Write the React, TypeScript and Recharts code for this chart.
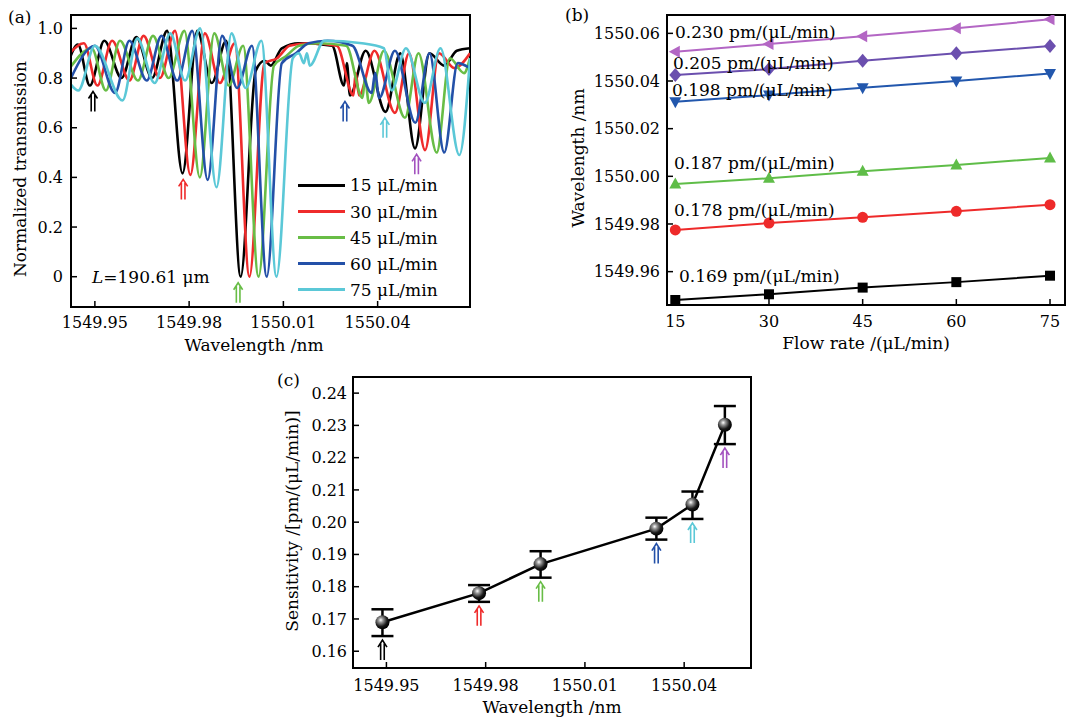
import React from "react";
import { ComposedChart, Line, Scatter, XAxis, YAxis, ReferenceArea, ErrorBar } from "recharts";

const FONT = "'DejaVu Serif', 'Liberation Serif', serif";

// (a) transmission spectra, [wavelength nm, normalized transmission]
const spec15 = [
  [1549.942, 0.88], [1549.9446, 0.935], [1549.9484, 0.77], [1549.953, 0.95], [1549.9585, 0.8],
  [1549.9632, 0.965], [1549.9682, 0.8], [1549.973, 0.99], [1549.9779, 0.416], [1549.9826, 0.99],
  [1549.9872, 0.78], [1549.9918, 0.95], [1549.9964, 0.0], [1550.0012, 0.83], [1550.004, 0.87],
  [1550.006, 0.85], [1550.0095, 0.92], [1550.015, 0.94], [1550.0255, 0.93], [1550.0293, 0.77],
  [1550.0302, 0.86], [1550.0312, 0.73], [1550.0362, 0.91], [1550.0425, 0.664], [1550.0472, 0.9],
  [1550.0519, 0.517], [1550.0565, 0.9], [1550.0612, 0.85], [1550.0652, 0.91], [1550.0694, 0.92],
];
const spec30 = [
  [1549.942, 0.9], [1549.9465, 0.94], [1549.9508, 0.77], [1549.9555, 0.95], [1549.961, 0.79],
  [1549.9655, 0.97], [1549.9707, 0.8], [1549.9755, 0.99], [1549.9804, 0.41], [1549.985, 0.98],
  [1549.9898, 0.78], [1549.9945, 0.94], [1549.9992, 0.0], [1550.004, 0.86], [1550.008, 0.88],
  [1550.012, 0.93], [1550.018, 0.94], [1550.027, 0.93], [1550.0323, 0.73], [1550.033, 0.82],
  [1550.0341, 0.73], [1550.039, 0.91], [1550.0455, 0.66], [1550.05, 0.9], [1550.0551, 0.51],
  [1550.0595, 0.9], [1550.0645, 0.84], [1550.0694, 0.9],
];
const spec45 = [
  [1549.942, 0.84], [1549.949, 0.92], [1549.9535, 0.75], [1549.958, 0.95], [1549.9637, 0.79],
  [1549.9685, 0.97], [1549.9735, 0.8], [1549.9785, 0.99], [1549.9834, 0.4], [1549.988, 0.98],
  [1549.9926, 0.77], [1549.9972, 0.93], [1550.0021, 0.0], [1550.007, 0.85], [1550.011, 0.89],
  [1550.015, 0.93], [1550.021, 0.94], [1550.03, 0.93], [1550.0352, 0.72], [1550.036, 0.8],
  [1550.0372, 0.7], [1550.042, 0.91], [1550.0487, 0.64], [1550.053, 0.9], [1550.0588, 0.5],
  [1550.063, 0.88], [1550.0675, 0.82], [1550.0694, 0.88],
];
const spec60 = [
  [1549.942, 0.79], [1549.95, 0.93], [1549.9564, 0.74], [1549.961, 0.95], [1549.9665, 0.79],
  [1549.9712, 0.97], [1549.9762, 0.79], [1549.981, 0.99], [1549.9859, 0.39], [1549.9905, 0.97],
  [1549.9953, 0.76], [1550.0, 0.93], [1550.0047, 0.0], [1550.0095, 0.86], [1550.014, 0.9],
  [1550.018, 0.94], [1550.024, 0.95], [1550.032, 0.93], [1550.0381, 0.74], [1550.0392, 0.82],
  [1550.0405, 0.72], [1550.0455, 0.91], [1550.052, 0.62], [1550.0565, 0.9], [1550.0612, 0.5],
  [1550.0655, 0.86], [1550.0694, 0.84],
];
const spec75 = [
  [1549.942, 0.78], [1549.9447, 0.75], [1549.95, 0.93], [1549.9588, 0.71], [1549.9635, 0.96],
  [1549.969, 0.78], [1549.974, 0.98], [1549.9787, 0.79], [1549.9835, 1.0], [1549.9887, 0.36],
  [1549.9935, 0.98], [1549.998, 0.76], [1550.003, 0.95], [1550.0078, 0.0], [1550.013, 0.88],
  [1550.015, 0.9], [1550.0165, 0.86], [1550.0175, 0.9], [1550.0184, 0.85], [1550.023, 0.95],
  [1550.035, 0.94], [1550.042, 0.92], [1550.0445, 0.75], [1550.049, 0.92], [1550.055, 0.7],
  [1550.06, 0.92], [1550.066, 0.49], [1550.0694, 0.88],
];
const spectra = [spec15, spec30, spec45, spec60, spec75];
const flowNames = ["15 μL/min", "30 μL/min", "45 μL/min", "60 μL/min", "75 μL/min"];
const specColors = ["#000000", "#ef2b2b", "#68bd46", "#2350a8", "#5bc8d7"];

// tracked dips of the 15 μL/min spectrum (arrows in a)
const dipWl = [1549.9494, 1549.9781, 1549.9956, 1550.0296, 1550.0423, 1550.0524];
const dipT = [0.77, 0.416, 0.0, 0.73, 0.664, 0.517];
const arrowColors = ["#000000", "#ef2b2b", "#68bd46", "#2350a8", "#5bc8d7", "#a352bf"];

// (b) dip wavelength vs flow rate
const flowRates = [15, 30, 45, 60, 75];
const dip169 = [1549.9481, 1549.9505, 1549.9533, 1549.9556, 1549.9583];
const dip178 = [1549.9775, 1549.9804, 1549.9828, 1549.9853, 1549.9881];
const dip187 = [1549.9968, 1549.9992, 1550.0021, 1550.0048, 1550.0077];
const dip198 = [1550.0313, 1550.0341, 1550.0372, 1550.04, 1550.0432];
const dip205 = [1550.0425, 1550.045, 1550.0485, 1550.0516, 1550.0547];
const dip230 = [1550.0523, 1550.0555, 1550.0588, 1550.0621, 1550.0659];
const dipSeries = [dip169, dip178, dip187, dip198, dip205, dip230];
const fitLabels = [
  "0.169 pm/(μL/min)", "0.178 pm/(μL/min)", "0.187 pm/(μL/min)",
  "0.198 pm/(μL/min)", "0.205 pm/(μL/min)", "0.230 pm/(μL/min)",
];
const dipColors = ["#000000", "#ee2a2a", "#5fbd48", "#2257ad", "#6b4fae", "#b366c4"];
const dipShapes = ["square", "circle", "up", "down", "diamond", "left"];
const fitLabelPos = [
  [679, 276], [674, 210], [674, 163], [672, 90], [673, 63], [675, 32],
];

// (c) sensitivity vs dip wavelength
const dipCenters = [1549.9488, 1549.978, 1549.9966, 1550.0316, 1550.0425, 1550.0523];
const sensitivity = [0.169, 0.178, 0.187, 0.198, 0.2055, 0.2302];
const errDown = [0.0043, 0.0027, 0.0042, 0.0034, 0.0045, 0.006];
const errUp = [0.004, 0.0025, 0.004, 0.0034, 0.004, 0.0058];

const axisLine = { stroke: "#000", strokeWidth: 2 };
const tickLine = { stroke: "#000", strokeWidth: 1.5 };
const tickStyle = { fill: "#000", fontSize: 16, fontFamily: FONT };

// double-shafted up arrow, centred on (x, y)
function Arrow({ x, y, color }: { x: number; y: number; color: string }) {
  return (
    <path
      d={`M${x - 4.5},${y - 3} L${x},${y - 10} L${x + 4.5},${y - 3} M${x - 1.8},${y - 6.5} L${x - 1.8},${y + 10} M${x + 1.8},${y - 6.5} L${x + 1.8},${y + 10}`}
      fill="none"
      stroke={color}
      strokeWidth={1.6}
    />
  );
}

function Marker({ cx, cy, shape, color }: any) {
  if (cx == null || cy == null) return null;
  if (shape === "square") return <rect x={cx - 5} y={cy - 5} width={10} height={10} fill={color} />;
  if (shape === "circle") return <circle cx={cx} cy={cy} r={5.5} fill={color} />;
  let pts: number[][] = [];
  if (shape === "up") pts = [[0, -6.5], [6, 4.5], [-6, 4.5]];
  if (shape === "down") pts = [[0, 6.5], [6, -4.5], [-6, -4.5]];
  if (shape === "diamond") pts = [[0, -7], [6, 0], [0, 7], [-6, 0]];
  if (shape === "left") pts = [[-6.5, 0], [4.5, -6], [4.5, 6]];
  return <polygon points={pts.map((p) => `${cx + p[0]},${cy + p[1]}`).join(" ")} fill={color} />;
}

function Sphere({ cx, cy }: any) {
  if (cx == null || cy == null) return null;
  return (
    <g>
      <defs>
        <radialGradient id="sphereFill" cx="0.38" cy="0.35" r="0.65">
          <stop offset="0" stopColor="#ffffff" />
          <stop offset="0.25" stopColor="#9a9a9a" />
          <stop offset="0.7" stopColor="#1a1a1a" />
          <stop offset="1" stopColor="#000000" />
        </radialGradient>
      </defs>
      <circle cx={cx} cy={cy} r={7} fill="url(#sphereFill)" />
    </g>
  );
}

function Txt({ x, y, children, size = 17, center = false, rotate = false }: any) {
  let transform = "translateY(-50%)";
  if (center) transform = "translate(-50%,-50%)";
  if (rotate) transform = "translate(-50%,-50%) rotate(-90deg)";
  return (
    <div
      style={{
        position: "absolute",
        left: x,
        top: y,
        transform,
        fontFamily: FONT,
        fontSize: size,
        lineHeight: 1.2,
        whiteSpace: "nowrap",
        color: "#000",
      }}
    >
      {children}
    </div>
  );
}

function PanelA() {
  const xDom = [1549.9424, 1550.0694];
  const yDom = [-0.122, 1.054];
  const arrows = dipWl.map((x, i) => ({ x, y: dipT[i], k: i }));
  return (
    <div style={{ position: "absolute", left: 0, top: 0 }}>
      <ComposedChart width={475} height={340} margin={{ top: 15, right: 5, bottom: 10, left: 0 }}>
        <XAxis
          type="number"
          dataKey="x"
          domain={xDom}
          allowDataOverflow
          ticks={[1549.95, 1549.98, 1550.01, 1550.04]}
          tickFormatter={(v) => v.toFixed(2)}
          height={23}
          axisLine={axisLine}
          tickLine={tickLine}
          tickSize={-6}
          tickMargin={16}
          tick={tickStyle}
        />
        <YAxis
          type="number"
          dataKey="y"
          domain={yDom}
          allowDataOverflow
          ticks={[0, 0.2, 0.4, 0.6, 0.8, 1.0]}
          tickFormatter={(v) => (v === 0 ? "0" : v.toFixed(1))}
          width={71}
          axisLine={axisLine}
          tickLine={tickLine}
          tickSize={-6}
          tickMargin={14}
          tick={tickStyle}
        />
        {spectra.map((s, i) => (
          <Line
            key={flowNames[i]}
            data={s.map((p) => ({ x: p[0], y: p[1] }))}
            dataKey="y"
            type="monotone"
            stroke={specColors[i]}
            strokeWidth={2.6}
            dot={false}
            isAnimationActive={false}
          />
        ))}
        <Scatter
          data={arrows}
          dataKey="y"
          isAnimationActive={false}
          shape={(p: any) => <Arrow x={p.cx} y={p.cy + 16} color={arrowColors[p.payload.k]} />}
        />
        <ReferenceArea x1={xDom[0]} x2={xDom[1]} y1={yDom[0]} y2={yDom[1]} fill="none" stroke="#000" strokeWidth={2} ifOverflow="visible" />
      </ComposedChart>
    </div>
  );
}

function PanelB() {
  const xDom = [13.67, 77.4];
  const yDom = [1549.946, 1550.0677];
  return (
    <div style={{ position: "absolute", left: 560, top: 0 }}>
      <ComposedChart width={506} height={340} margin={{ top: 15, right: 1, bottom: 10, left: 0 }}>
        <XAxis
          type="number"
          dataKey="x"
          domain={xDom}
          allowDataOverflow
          ticks={flowRates}
          height={25}
          axisLine={axisLine}
          tickLine={tickLine}
          tickSize={-6}
          tickMargin={17}
          tick={tickStyle}
        />
        <YAxis
          type="number"
          dataKey="y"
          domain={yDom}
          allowDataOverflow
          ticks={[1549.96, 1549.98, 1550.0, 1550.02, 1550.04, 1550.06]}
          tickFormatter={(v) => v.toFixed(2)}
          width={107}
          axisLine={axisLine}
          tickLine={tickLine}
          tickSize={-6}
          tickMargin={13}
          tick={tickStyle}
        />
        {dipSeries.map((s, i) => (
          <Line
            key={fitLabels[i]}
            data={s.map((y, j) => ({ x: flowRates[j], y }))}
            dataKey="y"
            type="linear"
            stroke={dipColors[i]}
            strokeWidth={2}
            isAnimationActive={false}
            dot={(p: any) => <Marker key={p.index} cx={p.cx} cy={p.cy} shape={dipShapes[i]} color={dipColors[i]} />}
          />
        ))}
        <ReferenceArea x1={xDom[0]} x2={xDom[1]} y1={yDom[0]} y2={yDom[1]} fill="none" stroke="#000" strokeWidth={2} ifOverflow="visible" />
      </ComposedChart>
    </div>
  );
}

function PanelC() {
  const xDom = [1549.9399, 1550.0602];
  const yDom = [0.1548, 0.245];
  const rows = dipCenters.map((x, i) => ({ x, y: sensitivity[i], err: [errDown[i], errUp[i]] }));
  const arrows = dipCenters.map((x, i) => ({ x, y: sensitivity[i] - errDown[i], k: i }));
  return (
    <div style={{ position: "absolute", left: 270, top: 360 }}>
      <ComposedChart width={490} height={345} margin={{ top: 17, right: 9, bottom: 0, left: 0 }}>
        <XAxis
          type="number"
          dataKey="x"
          domain={xDom}
          allowDataOverflow
          ticks={[1549.95, 1549.98, 1550.01, 1550.04]}
          tickFormatter={(v) => v.toFixed(2)}
          height={37}
          axisLine={axisLine}
          tickLine={tickLine}
          tickSize={-6}
          tickMargin={18}
          tick={tickStyle}
        />
        <YAxis
          type="number"
          dataKey="y"
          domain={yDom}
          allowDataOverflow
          ticks={[0.16, 0.17, 0.18, 0.19, 0.2, 0.21, 0.22, 0.23, 0.24]}
          tickFormatter={(v) => v.toFixed(2)}
          width={83}
          axisLine={axisLine}
          tickLine={tickLine}
          tickSize={-6}
          tickMargin={12}
          tick={tickStyle}
        />
        <Line
          data={rows}
          dataKey="y"
          type="linear"
          stroke="#000"
          strokeWidth={2.5}
          isAnimationActive={false}
          dot={(p: any) => <Sphere key={p.index} cx={p.cx} cy={p.cy} />}
        >
          <ErrorBar dataKey="err" width={11} stroke="#000" strokeWidth={2.5} isAnimationActive={false} />
        </Line>
        <Scatter
          data={arrows}
          dataKey="y"
          isAnimationActive={false}
          shape={(p: any) => <Arrow x={p.cx} y={p.cy + 14} color={arrowColors[p.payload.k]} />}
        />
        <ReferenceArea x1={xDom[0]} x2={xDom[1]} y1={yDom[0]} y2={yDom[1]} fill="none" stroke="#000" strokeWidth={2} ifOverflow="visible" />
      </ComposedChart>
    </div>
  );
}

export default function App() {
  const legendY = [185, 211.5, 237.5, 263.5, 289.5];
  return (
    <div style={{ position: "absolute", left: 0, top: 0, width: 1066, height: 720, background: "#fff", overflow: "hidden" }}>
      <PanelA />
      <PanelB />
      <PanelC />

      {/* panel (a) texts */}
      <Txt x={8} y={17}>(a)</Txt>
      <Txt x={20} y={169} rotate>Normalized transmission</Txt>
      <Txt x={254} y={345} center>Wavelength /nm</Txt>
      <Txt x={92} y={277}>
        <i>L</i>=190.61 μm
      </Txt>
      {flowNames.map((n, i) => (
        <React.Fragment key={n}>
          <div style={{ position: "absolute", left: 298, top: legendY[i] - 1.5, width: 47, height: 3, background: specColors[i] }} />
          <Txt x={350} y={legendY[i]}>{n}</Txt>
        </React.Fragment>
      ))}

      {/* panel (b) texts */}
      <Txt x={565} y={15}>(b)</Txt>
      <Txt x={578} y={158} rotate>Wavelength /nm</Txt>
      <Txt x={866} y={343} center>Flow rate /(μL/min)</Txt>
      {fitLabels.map((t, i) => (
        <Txt key={t} x={fitLabelPos[i][0]} y={fitLabelPos[i][1]}>{t}</Txt>
      ))}

      {/* panel (c) texts */}
      <Txt x={277} y={380}>(c)</Txt>
      <Txt x={292} y={521} rotate>Sensitivity /[pm/(μL/min)]</Txt>
      <Txt x={552} y={707} center>Wavelength /nm</Txt>
    </div>
  );
}
